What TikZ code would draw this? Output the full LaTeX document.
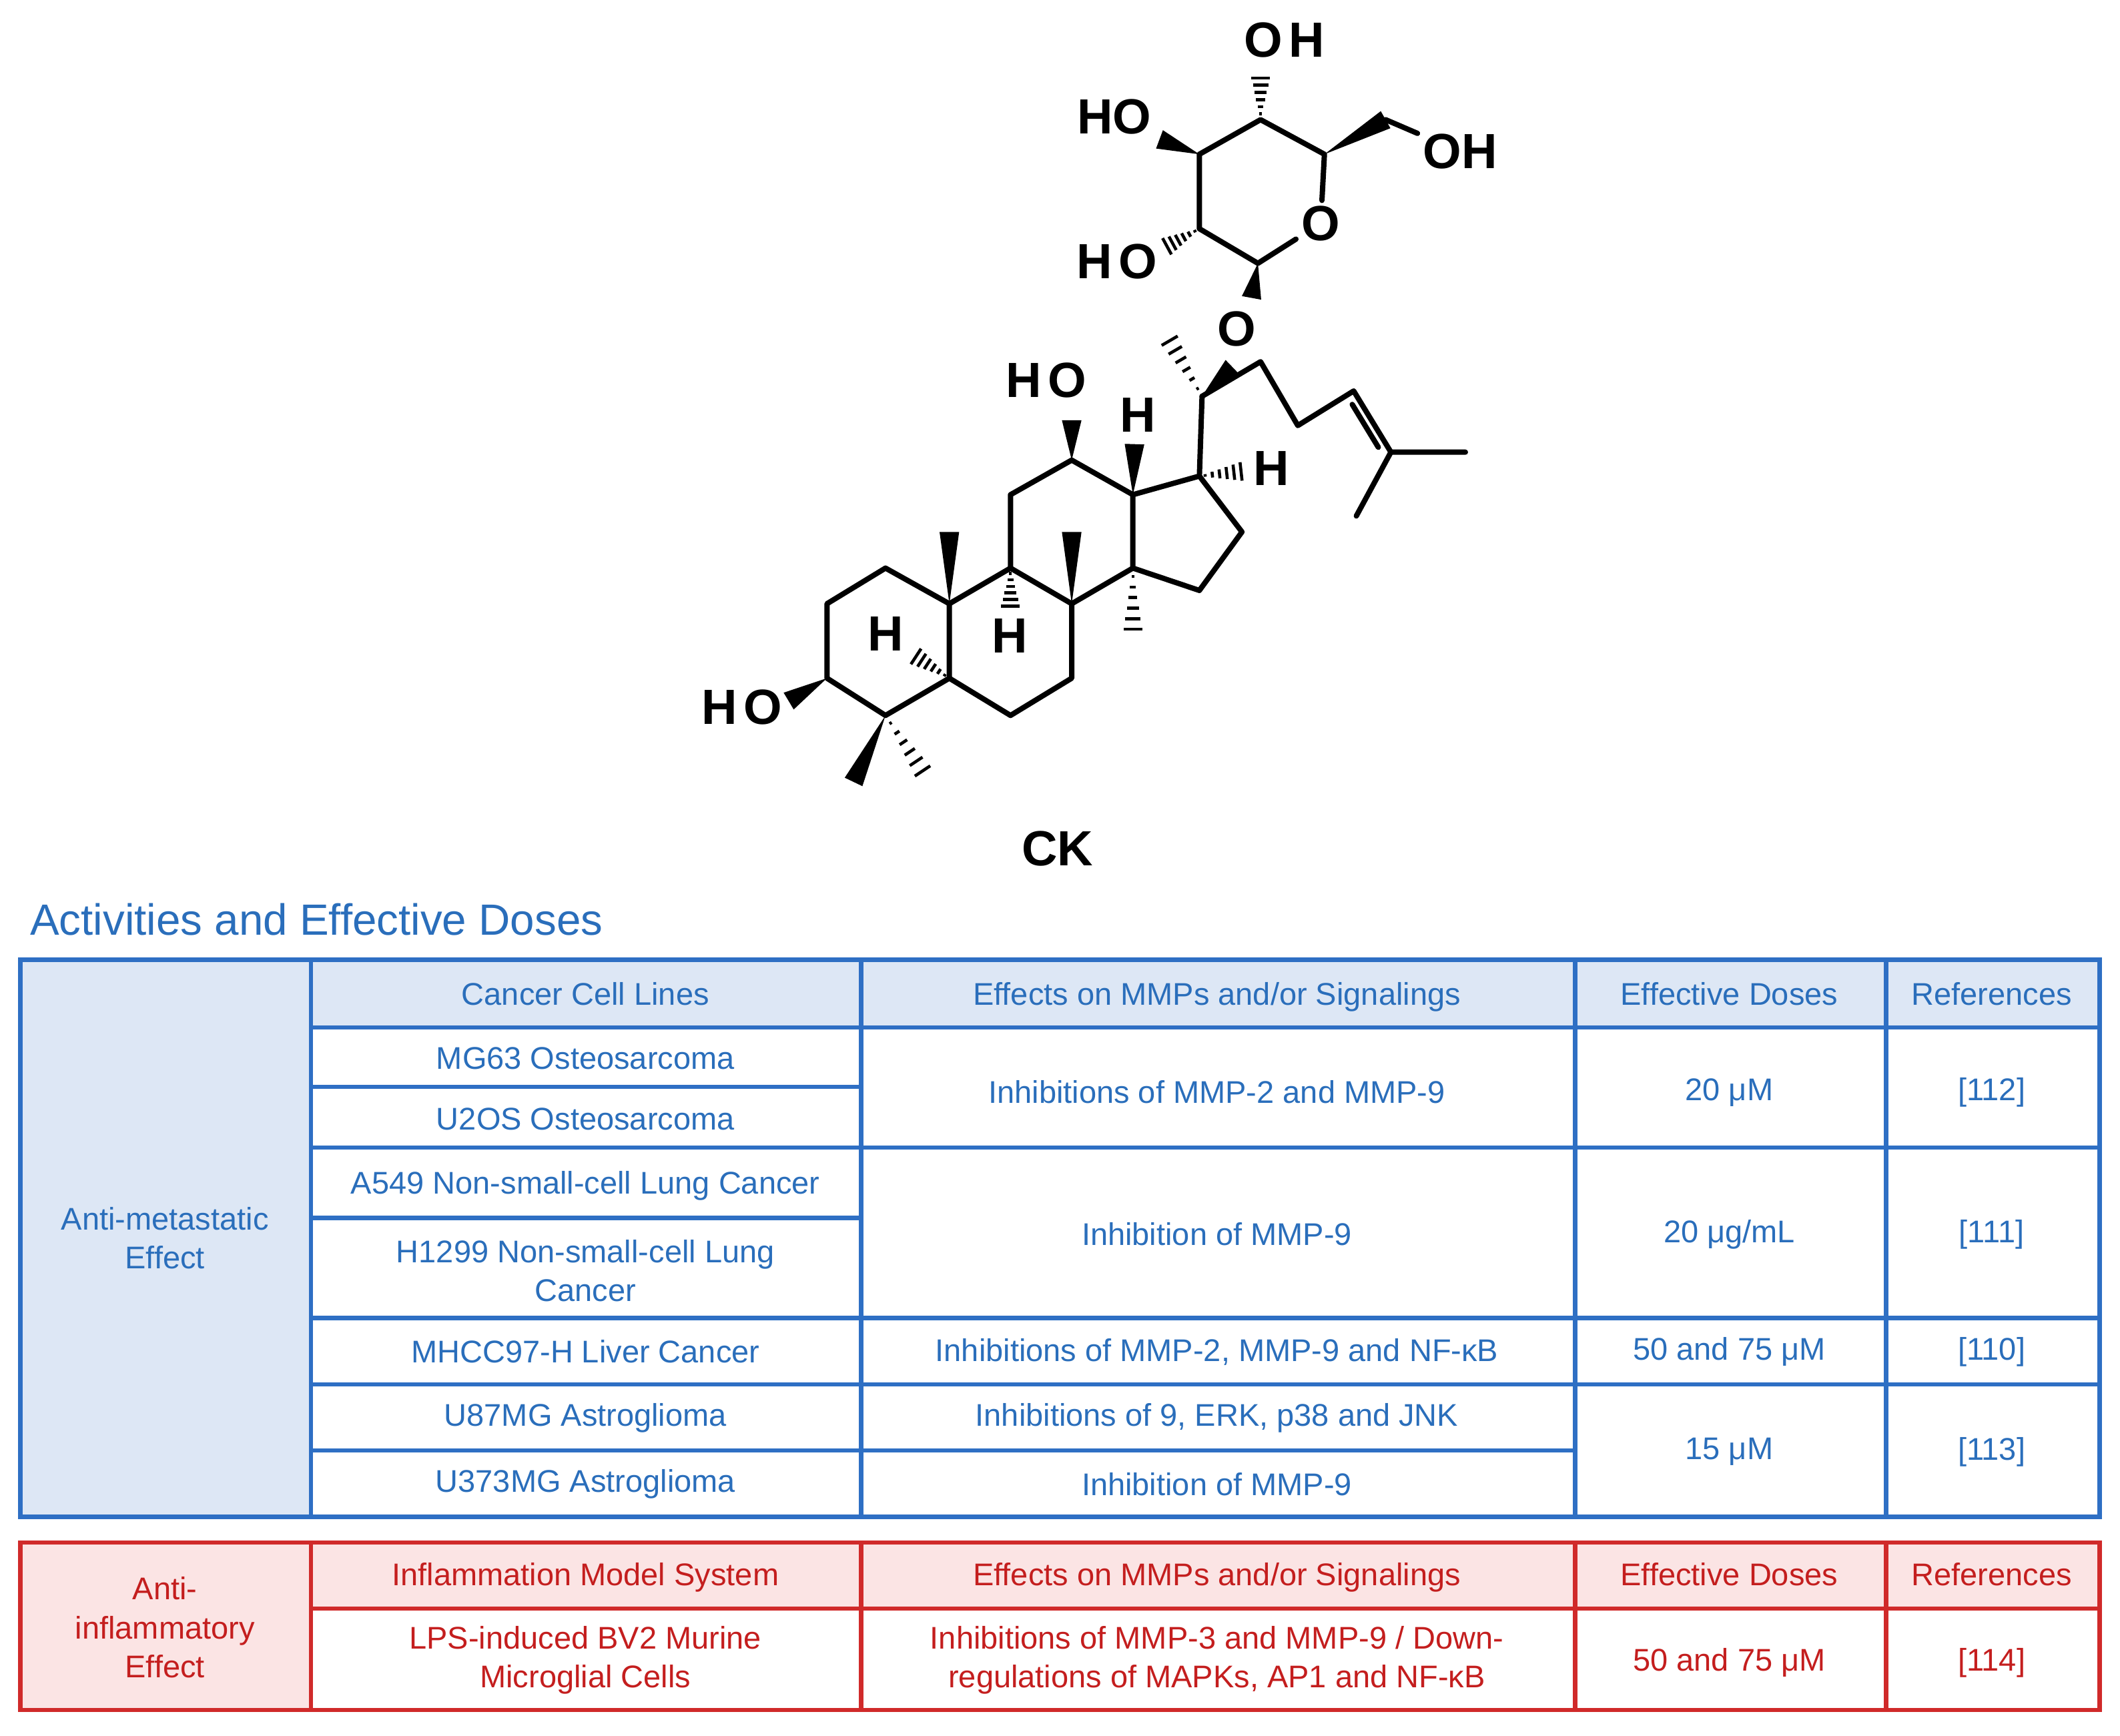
\documentclass[tikz,border=0pt]{standalone}
\usepackage{fontspec}
\setmainfont{Liberation Sans}
\usetikzlibrary{calc}
\definecolor{tb}{HTML}{2A6EBB}
\definecolor{lb}{HTML}{2E6FC4}
\definecolor{fb}{HTML}{DDE7F5}
\definecolor{tr}{HTML}{C41E1E}
\definecolor{lr}{HTML}{D02A2A}
\definecolor{fr}{HTML}{FBE4E4}
\newcommand\wdg[2]{\fill (#1) -- ($(#2)!4.6mm!90:(#1)$) -- ($(#2)!4.6mm!-90:(#1)$) -- cycle;}
\newcommand\hsh[2]{\foreach \t in {0.12,0.27,...,0.95}{\draw[line width=1.6pt,line cap=butt] ($(#1)!\t!(#2)!{\t*5mm}!90:(#2)$) -- ($(#1)!\t!(#2)!{\t*5mm}!-90:(#2)$);}}
\begin{document}
\begin{tikzpicture}[x=0.25mm,y=-0.25mm,
  cellb/.style={text=tb,align=center,font=\fontsize{16.5}{20.5}\selectfont,inner sep=0pt},
  cellr/.style={text=tr,align=center,font=\fontsize{16.5}{20.5}\selectfont,inner sep=0pt},
  atom/.style={font=\fontsize{26}{28}\selectfont\bfseries,inner sep=1.5pt},
  bl/.style={lb,line width=0.8mm},
  rl/.style={lr,line width=0.8mm}]
\useasboundingbox (0,0) rectangle (1568,1284);
% molecule
\begin{scope}[shift={(493.6,0)},scale=0.3935,line width=2.8pt,line join=round,line cap=round]
\foreach \n/\p in {c1/{300,1135},c2/{410,1068},c10/{530,1135},c5/{530,1275},c4/{410,1345},c3/{300,1275},
 c9/{645,1068},c8/{760,1135},c7/{760,1275},c6/{645,1345},c11/{645,930},c12/{760,865},c13/{875,930},c14/{875,1068},
 c17/{1000,895},c16/{1080,1000},c15/{1000,1110},c20/{1005,745},c21/{935,625},c22/{1115,680},c23/{1185,800},
 c24/{1290,735},c25/{1360,850},c26/{1500,850},c27/{1295,970},m19/{530,1000},m18/{760,1000},m30/{875,1200},
 m28/{350,1470},m29/{490,1465},h9e/{645,1150},h5e/{458,1228},o3e/{228,1318},o12e/{760,790},h13e/{878,835},
 h17e/{1090,885},o20e/{1062,690},s1/{1110,495},s5/{1235,290},s4/{1115,225},s3/{1000,290},s2/{1000,430},
 s6/{1350,225},o1e/{1098,560},s4e/{1115,135},s3e/{925,262},s2e/{930,468}}
  {\coordinate (\n) at (\p);}
\node[atom] (H9) at (643,1195) {H};
\node[atom] (H5) at (410,1192) {H};
\node[atom] (O3) at (140,1330) {H\hspace{0.12em}O};
\node[atom] (O12) at (712,715) {H\hspace{0.12em}O};
\node[atom] (H13) at (885,780) {H};
\node[atom] (H17) at (1135,880) {H};
\node[atom] (O20) at (1070,618) {O};
\node[atom] (sO) at (1228,420) {O};
\node[atom] (O6) at (1490,285) {OH};
\node[atom] (O4) at (1160,75) {O\hspace{0.12em}H};
\node[atom] (O3s) at (840,220) {HO};
\node[atom] (O2s) at (845,492) {H\hspace{0.12em}O};
\node[atom] (CK) at (733.5,1595) {CK};
\draw (c1)--(c2)--(c10)--(c5)--(c4)--(c3)--cycle;
\draw (c10)--(c9)--(c8)--(c7)--(c6)--(c5);
\draw (c9)--(c11)--(c12)--(c13)--(c14)--(c8);
\draw (c13)--(c17)--(c16)--(c15)--(c14);
\draw (c17)--(c20);
\draw (c20)--(c22)--(c23)--(c24)--(c25)--(c26);
\draw (c25)--(c27);
\draw ($(c24)!0.15!(c25)!11pt!-90:(c25)$) -- ($(c25)!0.15!(c24)!11pt!90:(c24)$);
\draw (sO)--(s1)--(s2)--(s3)--(s4)--(s5)--(sO);
\draw (s6)--(O6);
\wdg{c10}{m19} \wdg{c8}{m18} \hsh{c14}{m30}
\wdg{c4}{m28} \hsh{c4}{m29}
\hsh{c9}{h9e} \hsh{c5}{h5e}
\wdg{c3}{o3e} \wdg{c12}{o12e} \wdg{c13}{h13e} \hsh{c17}{h17e}
\hsh{c20}{c21} \wdg{c20}{o20e}
\wdg{s1}{o1e} \wdg{s5}{s6} \hsh{s4}{s4e} \wdg{s3}{s3e} \hsh{s2}{s2e}
\end{scope}
% title
\node[anchor=west,text=tb,font=\fontsize{23}{26}\selectfont,inner sep=0pt] (title) at (22,680) {Activities and Effective Doses};
% blue table
\fill[fb] (15,710) rectangle (230,1122);
\fill[fb] (230,710) rectangle (1553,760);
\draw[bl] (15,710) rectangle (1553,1122);
\foreach \x in {230,637,1165,1395} \draw[bl] (\x,710) -- (\x,1122);
\foreach \y in {760,849,975,1024} \draw[bl] (230,\y) -- (1553,\y);
\foreach \y in {804,901} \draw[bl] (230,\y) -- (637,\y);
\draw[bl] (230,1073) -- (1165,1073);
\node[cellb] (am) at (122,916) {Anti-metastatic\\Effect};
\node[cellb] (h1) at (433,738) {\strut Cancer Cell Lines};
\node[cellb] (h2) at (900,738) {\strut Effects on MMPs and/or Signalings};
\node[cellb] (h3) at (1279,738) {\strut Effective Doses};
\node[cellb] (h4) at (1473,738) {\strut References};
\node[cellb] (r1) at (433,783) {MG63 Osteosarcoma};
\node[cellb] (r2) at (433,828) {U2OS Osteosarcoma};
\node[cellb] (r3) at (433,877) {A549 Non-small-cell Lung Cancer};
\node[cellb] (r4) at (433,940) {H1299 Non-small-cell Lung\\Cancer};
\node[cellb] (r5) at (433,1000) {MHCC97-H Liver Cancer};
\node[cellb] (r6) at (433,1049) {U87MG Astroglioma};
\node[cellb] (r7) at (433,1098) {U373MG Astroglioma};
\node[cellb] (e1) at (900,808) {Inhibitions of MMP-2 and MMP-9};
\node[cellb] (e2) at (900,913) {Inhibition of MMP-9};
\node[cellb] (e3) at (900,1000) {Inhibitions of MMP-2, MMP-9 and NF-κB};
\node[cellb] (e4) at (900,1049) {Inhibitions of 9, ERK, p38 and JNK};
\node[cellb] (e5) at (900,1098) {Inhibition of MMP-9};
\node[cellb] (d1) at (1279,808) {20 μM};
\node[cellb] (d2) at (1279,913) {20 μg/mL};
\node[cellb] (d3) at (1279,1000) {50 and 75 μM};
\node[cellb] (d4) at (1279,1074) {15 μM};
\node[cellb] (f1) at (1473,808) {[112]};
\node[cellb] (f2) at (1473,913) {[111]};
\node[cellb] (f3) at (1473,1000) {[110]};
\node[cellb] (f4) at (1473,1074) {[113]};
% red table
\fill[fr] (15,1141) rectangle (230,1265);
\fill[fr] (230,1141) rectangle (1553,1190);
\draw[rl] (15,1141) rectangle (1553,1265);
\foreach \x in {230,637,1165,1395} \draw[rl] (\x,1141) -- (\x,1265);
\draw[rl] (230,1190) -- (1553,1190);
\node[cellr] (ai) at (122,1204) {Anti-\\inflammatory\\Effect};
\node[cellr] (g1) at (433,1167) {\strut Inflammation Model System};
\node[cellr] (g2) at (900,1167) {\strut Effects on MMPs and/or Signalings};
\node[cellr] (g3) at (1279,1167) {\strut Effective Doses};
\node[cellr] (g4) at (1473,1167) {\strut References};
\node[cellr] (q1) at (433,1228) {LPS-induced BV2 Murine\\Microglial Cells};
\node[cellr] (q2) at (900,1228) {Inhibitions of MMP-3 and MMP-9 / Down-\\regulations of MAPKs, AP1 and NF-κB};
\node[cellr] (q3) at (1279,1230) {50 and 75 μM};
\node[cellr] (q4) at (1473,1230) {[114]};
\end{tikzpicture}
\end{document}
